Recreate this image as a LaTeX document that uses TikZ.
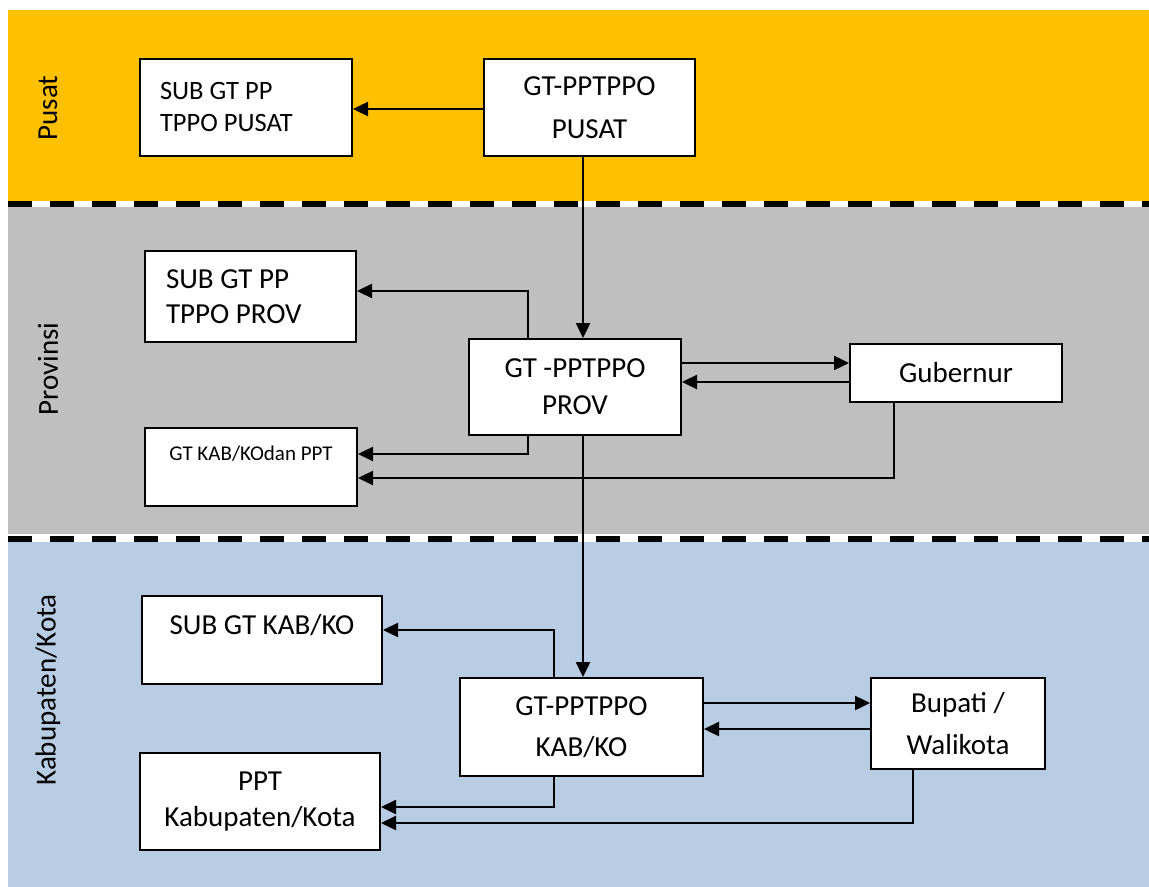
\documentclass[tikz,border=0pt]{standalone}
\usepackage{fontspec}
\setmainfont{Carlito}
\usetikzlibrary{arrows.meta}

\definecolor{pusatcol}{HTML}{FFC000}
\definecolor{provcol}{HTML}{BFBFBF}
\definecolor{kabcol}{HTML}{B8CCE4}

\begin{document}
\begin{tikzpicture}[x=0.5pt,y=-0.5pt]
   \tikzset{box/.style={draw, fill=white, line width=1pt, inner sep=0pt, align=center, font=\fontsize{14.5}{21}\selectfont}}
   \tikzset{subbox/.style={box, align=flush left, inner xsep=10pt}}
   \tikzset{lanelabel/.style={rotate=90, font=\fontsize{14.5}{17}\selectfont}}
   \tikzset{border/.style={line width=3pt, dash pattern=on 12pt off 9pt}}
   \tikzset{arr/.style={-{Triangle[length=7.5pt,width=7pt]}, line width=1.2pt}}
   \useasboundingbox (0,0) rectangle (1149,887);
   % lanes
   \fill[pusatcol] (8,10) rectangle (1149,201);
   \fill[provcol] (8,207) rectangle (1149,534);
   \fill[kabcol] (8,542) rectangle (1149,887);
   \fill[white] (8,201) rectangle (1149,207);
   \fill[white] (8,534) rectangle (1149,542);
   \draw[border] (8,204) -- (1149,204);
   \draw[border] (8,539) -- (1149,539);
   \node[lanelabel] (lpusat) at (48,108) {Pusat};
   \node[lanelabel] (lprov) at (48,369) {Provinsi};
   \node[lanelabel] (lkab) at (48,690) {Kabupaten/Kota};
   % boxes
   \node[subbox, text width=86pt, minimum height=48.5pt, font=\fontsize{13.25}{16}\selectfont] (subpusat) at (246,107.5) {SUB GT PP\\TPPO PUSAT};
   \node[box, minimum width=105.5pt, minimum height=48.5pt, font=\fontsize{14.5}{21.5}\selectfont] (pusat) at (589.5,107.5) {GT-PPTPPO\\PUSAT};
   \node[subbox, text width=84.5pt, inner xsep=10.5pt, minimum height=45.5pt, font=\fontsize{14.5}{17.5}\selectfont] (subprov) at (250.5,296.5) {SUB GT PP\\TPPO PROV};
   \node[box, minimum width=106pt, minimum height=48pt, font=\fontsize{14.5}{18.5}\selectfont] (prov) at (575,387) {GT -PPTPPO\\PROV};
   \node[box, minimum width=106pt, minimum height=29pt] (gub) at (956,373) {Gubernur};
   \node[box, minimum width=106pt, minimum height=39pt, text height=8pt, text depth=15pt, font=\fontsize{10.5}{12}\selectfont] (gtkab) at (251,467) {GT KAB/KOdan PPT};
   \node[box, minimum width=120pt, minimum height=44pt, text height=10pt, text depth=15.6pt] (subkab) at (262,640) {SUB GT KAB/KO};
   \node[box, minimum width=121.5pt, minimum height=49pt, font=\fontsize{14.5}{20.5}\selectfont] (kab) at (581.5,727) {GT-PPTPPO\\KAB/KO};
   \node[box, minimum width=87pt, minimum height=45.5pt] (bup) at (958,723.5) {Bupati /\\Walikota};
   \node[box, minimum width=120pt, minimum height=48.5pt, font=\fontsize{14.5}{18}\selectfont] (ppt) at (260,801.5) {PPT\\Kabupaten/Kota};
   % helper lines
   \coordinate (spine) at (583,0);
   \coordinate (pl) at (528,0);
   \coordinate (kl) at (554,0);
   \coordinate (gx) at (894,0);
   \coordinate (bx) at (913,0);
   \coordinate (ya) at (0,109);
   \coordinate (yb) at (0,291);
   \coordinate (yc) at (0,363);
   \coordinate (yd) at (0,382);
   \coordinate (ye) at (0,454);
   \coordinate (yf) at (0,478);
   \coordinate (yg) at (0,630);
   \coordinate (yh) at (0,703);
   \coordinate (yi) at (0,729);
   \coordinate (yj) at (0,807);
   \coordinate (yk) at (0,823);
   % connectors
   \draw[arr] (pusat.west |- ya) -- (subpusat.east |- ya);
   \draw[arr] (pusat.south -| spine) -- (prov.north -| spine);
   \draw[arr] (prov.north -| pl) |- (subprov.east |- yb);
   \draw[arr] (prov.east |- yc) -- (gub.west |- yc);
   \draw[arr] (gub.west |- yd) -- (prov.east |- yd);
   \draw[arr] (prov.south -| pl) |- (gtkab.east |- ye);
   \draw[arr] (gub.south -| gx) |- (gtkab.east |- yf);
   \draw[arr] (prov.south -| spine) -- (kab.north -| spine);
   \draw[arr] (kab.north -| kl) |- (subkab.east |- yg);
   \draw[arr] (kab.east |- yh) -- (bup.west |- yh);
   \draw[arr] (bup.west |- yi) -- (kab.east |- yi);
   \draw[arr] (kab.south -| kl) |- (ppt.east |- yj);
   \draw[arr] (bup.south -| bx) |- (ppt.east |- yk);
\end{tikzpicture}
\end{document}
